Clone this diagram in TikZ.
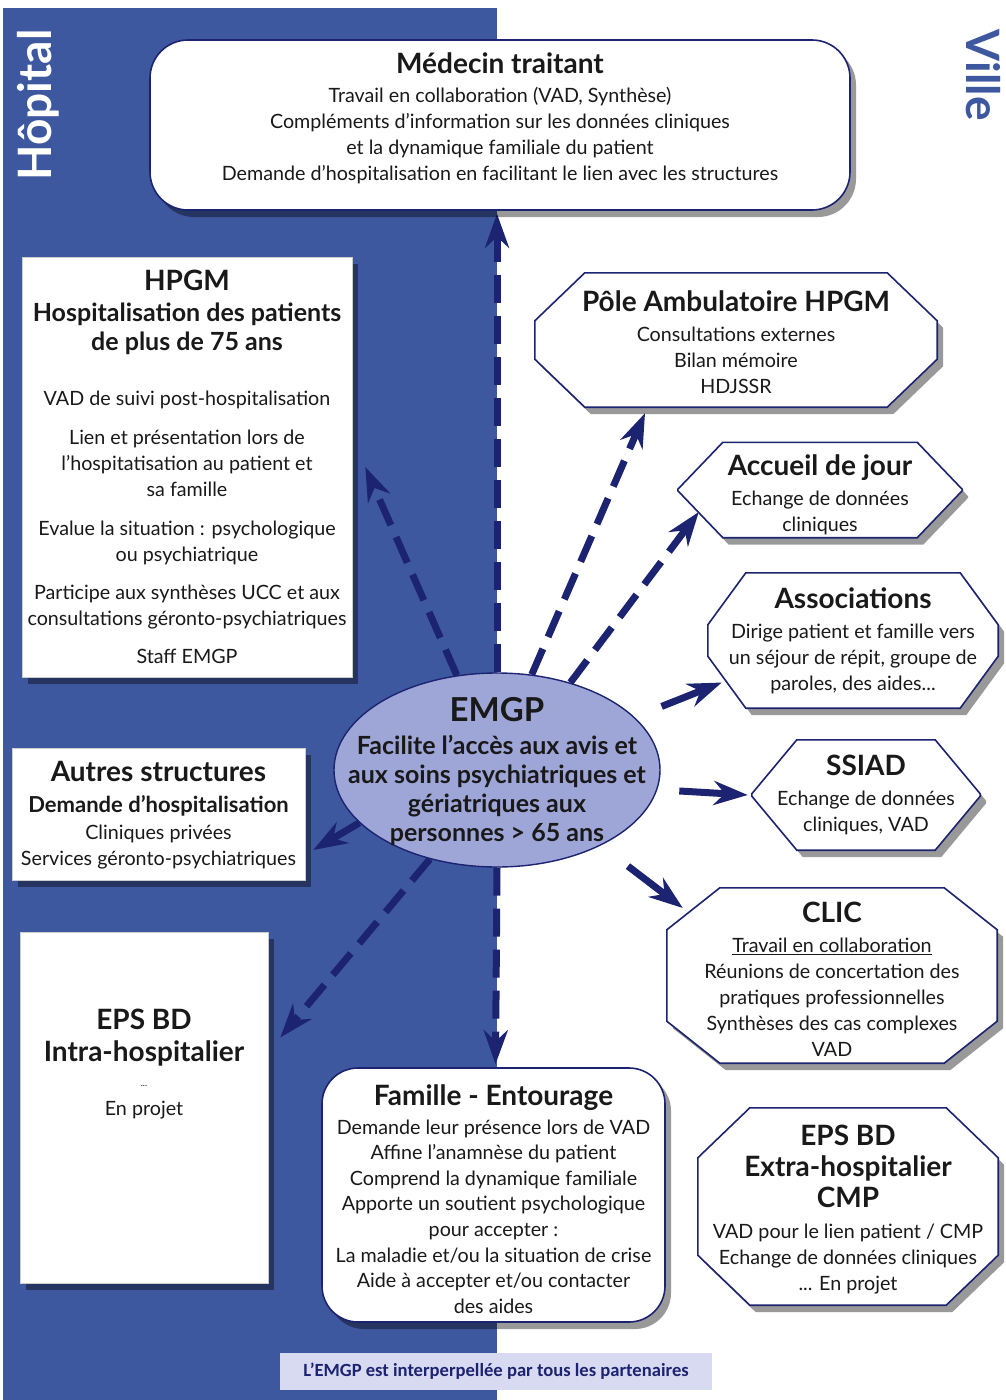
\documentclass[tikz,border=0pt]{standalone}
\usepackage{fontspec}
\setmainfont{Lato}
\newfontfamily\bannerfont{Carlito}
\usetikzlibrary{arrows.meta,shadows,calc,shapes.geometric}
\definecolor{panelblue}{RGB}{62,88,160}
\definecolor{navy}{RGB}{28,35,113}
\definecolor{ellfill}{RGB}{158,166,216}
\definecolor{bannerfill}{RGB}{216,218,242}
\definecolor{ink}{RGB}{25,25,25}
\pgfdeclarelayer{bg}\pgfdeclarelayer{arr}\pgfdeclarelayer{shp}
\pgfsetlayers{bg,arr,shp,main}
\newcommand\ttl[1]{{\fontsize{28}{32}\selectfont\bfseries #1}}
% node, chamfer x, chamfer y, upward offset of the outline
\newcommand\drawocto[4]{%
  \path[octostyle] ($(#1.north west)+(#2,-#4)$) -- ($(#1.north east)+(-#2,-#4)$) -- ($(#1.north east)+(0,#3-#4)$) -- ($(#1.south east)+(0,-#3-#4)$) -- ($(#1.south east)+(-#2,-#4)$) -- ($(#1.south west)+(#2,-#4)$) -- ($(#1.south west)+(0,-#3-#4)$) -- ($(#1.north west)+(0,#3-#4)$) -- cycle;}
\begin{document}
\begin{tikzpicture}[x=1pt,y=-1pt,
  every node/.style={inner sep=0pt, text=ink},
  body/.style={font=\fontsize{19.7}{26}\selectfont, align=center},
  shad/.style={drop shadow={shadow xshift=6pt, shadow yshift=-7pt, opacity=0.4, fill=black}},
  wbox/.style={rectangle, draw=black!20, line width=0.6pt, fill=white, shad, body},
  rbox/.style={rectangle, draw=navy, line width=1.6pt, fill=white, rounded corners=38pt, shad, body},
  holder/.style={rectangle, draw=none, body},
  octostyle/.style={draw=navy, line width=1.6pt, fill=white, shad},
  dasharrow/.style={draw=navy, line width=7pt, dash pattern=on 28pt off 13pt, -{Stealth[length=34pt,width=24pt]}},
  solarrow/.style={draw=navy, line width=7pt, -{Stealth[length=34pt,width=24pt]}},
]
\useasboundingbox (0,0) rectangle (1005,1400);
\begin{pgfonlayer}{bg}
\fill[white] (0,0) rectangle (1005,1400);
\fill[panelblue] (3,8) rectangle (497,1400);
\end{pgfonlayer}

% side labels
\node[rotate=90, text=white, font=\fontsize{46}{50}\selectfont\bfseries] (hop) at (38,105) {Hôpital};
\node[rotate=-90, text=panelblue, font=\fontsize{46}{50}\selectfont\bfseries] (ville) at (983,75) {Ville};

% Médecin traitant
\node[rbox, minimum width=700pt, minimum height=170pt] (med) at (500,125) {};
\node[body] (medtxt) at (500,118) {\ttl{Médecin traitant}\\[3pt]
Travail en collaboration (VAD, Synthèse)\\
Compléments d’information sur les données cliniques\\
et la dynamique familiale du patient\\
Demande d’hospitalisation en facilitant le lien avec les structures};

% HPGM
\node[wbox, minimum width=330pt, minimum height=420pt] (hpgm) at (187,467) {\ttl{HPGM}\\[5pt]
{\fontsize{25}{28}\selectfont\bfseries Hospitalisation des patients}\\[3pt]
{\fontsize{25}{28}\selectfont\bfseries de plus de 75 ans}\\[29pt]
VAD de suivi post-hospitalisation\\[13pt]
Lien et présentation lors de\\
l’hospitatisation au patient et\\
sa famille\\[13pt]
Evalue la situation : psychologique\\
ou psychiatrique\\[12pt]
Participe aux synthèses UCC et aux\\
consultations géronto-psychiatriques\\[12pt]
Staff EMGP};

% Autres structures
\node[wbox, minimum width=293pt, minimum height=132pt] (autres) at (158.5,814) {};
\node[body] (autrestxt) at (158.5,815) {\ttl{Autres structures}\\[5pt]
{\fontsize{22}{26}\selectfont\bfseries Demande d’hospitalisation}\\[1pt]
Cliniques privées\\
Services géronto-psychiatriques};

% EPS BD intra
\node[wbox, minimum width=248pt, minimum height=351pt] (epsi) at (144,1107.5) {};
\node[body] (epsitxt) at (144,1064) {\ttl{EPS BD}\\[6pt]
\ttl{Intra-hospitalier}\\[-1pt]
{\fontsize{9}{10}\selectfont ...}\\[3pt]
En projet};

% EMGP ellipse
\node[ellipse, draw=navy, line width=1.4pt, fill=ellfill, minimum width=326pt, minimum height=194pt] (emgp) at (497,770) {};
\node[align=center, font=\fontsize{25}{29}\selectfont\bfseries] (emgptxt) at (497,772) {{\fontsize{33}{36}\selectfont EMGP}\\[4pt]
Facilite l’accès aux avis et\\
aux soins psychiatriques et\\
gériatriques aux\\
personnes > 65 ans};

% Right-side octagons
\node[holder, minimum width=402pt, minimum height=134pt] (pole) at (736,342) {\ttl{Pôle Ambulatoire HPGM}\\[4pt]
Consultations externes\\ Bilan mémoire\\ HDJSSR};
\node[holder, minimum width=284pt, minimum height=95pt] (acc) at (820,495) {\ttl{Accueil de jour}\\[4pt]
Echange de données\\ cliniques};
\node[holder, minimum width=290pt, minimum height=135pt] (assoc) at (853,640.5) {\ttl{Associations}\\[4pt]
Dirige patient et famille vers\\ un séjour de répit, groupe de\\ paroles, des aides...};
\node[holder, minimum width=228pt, minimum height=110pt] (ssiad) at (866,795) {\ttl{SSIAD}\\[4pt]
Echange de données\\ cliniques, VAD};
\node[holder, minimum width=330pt, minimum height=175pt] (clic) at (832,979) {\ttl{CLIC}\\[4pt]
\underline{Travail en collaboration}\\ Réunions de concertation des\\ pratiques professionnelles\\ Synthèses des cas complexes\\ VAD};
\node[holder, minimum width=300pt, minimum height=197pt] (epse) at (848,1209.5) {\ttl{EPS BD}\\[5pt]
\ttl{Extra-hospitalier}\\[5pt]
\ttl{CMP}\\[5pt]
VAD pour le lien patient / CMP\\ Echange de données cliniques\\ ... En projet};

\begin{pgfonlayer}{shp}
\drawocto{pole}{50}{48}{2}
\drawocto{acc}{45}{47}{5}
\drawocto{assoc}{38}{52}{0}
\drawocto{ssiad}{45}{54}{0}
\drawocto{clic}{53}{42}{3.5}
\drawocto{epse}{52}{50}{3}
\end{pgfonlayer}

% Famille
\node[rbox, rounded corners=36pt, minimum width=343pt, minimum height=254pt] (fam) at (493.5,1195) {};
\node[align=center, font=\fontsize{19.7}{25.6}\selectfont] (famtxt) at (493.5,1199) {\ttl{Famille - Entourage}\\[3pt]
Demande leur présence lors de VAD\\
Affine l’anamnèse du patient\\
Comprend la dynamique familiale\\
Apporte un soutient psychologique\\
pour accepter :\\
La maladie et/ou la situation de crise\\
Aide à accepter et/ou contacter\\
des aides};

% Banner
\node[rectangle, fill=bannerfill, minimum width=432pt, minimum height=37pt, text=navy, font=\bannerfont\bfseries\fontsize{18.6}{20}\selectfont] (banner) at (496,1371.5) {L’EMGP est interperpellée par tous les partenaires};

% Arrows
\begin{pgfonlayer}{arr}
\draw[dasharrow] (emgp.north) -- ($(med.south)+(-3,3)$);
\draw[dasharrow] (emgp.south) -- ($(fam.north)+(2,-3)$);
\draw[dasharrow] (emgp.113) -- ($(hpgm.east)+(13,0)$);
\draw[dasharrow] (emgp.70) -- ($(pole.south)+(-91,4)$);
\draw[dasharrow] (emgp.50) -- ($(acc.west)+(21,17)$);
\draw[solarrow, shorten <=29pt] (emgp.21) -- ($(assoc.west)+(14,42)$);
\draw[solarrow, shorten <=22pt] (emgp.-7) -- ($(ssiad.west)+(-4,0)$);
\draw[solarrow, shorten <=34pt] (emgp.-36) -- ($(clic.west)+(16,-71)$);
\draw[solarrow] (emgp.201) -- ($(autres.east)+(8,36)$);
\draw[dasharrow] (emgp.233) -- ($(epsi.east)+(12,-70)$);
\end{pgfonlayer}
\end{tikzpicture}
\end{document}
